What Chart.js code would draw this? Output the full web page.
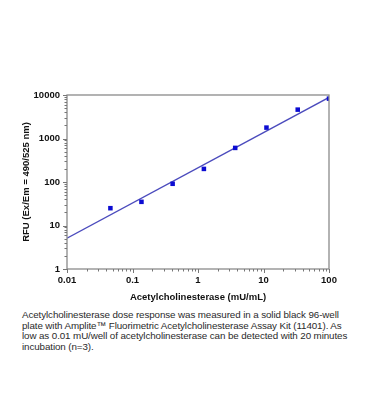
<!DOCTYPE html>
<html><head><meta charset="utf-8">
<script src="https://cdn.jsdelivr.net/npm/chart.js@4"></script>
<style>
html,body{margin:0;padding:0;background:#fff;width:369px;height:419px;overflow:hidden}
#wrap{position:absolute;left:0;top:0;width:369px;height:303px}
#cap{position:absolute;left:22px;top:310px;width:345px;font-family:"Liberation Sans",Arial,sans-serif;font-size:9.8px;line-height:10.7px;color:#2a2a2a;white-space:nowrap;letter-spacing:-0.1px}
</style></head><body>
<div id="wrap"><canvas id="c" width="369" height="303"></canvas></div>
<div id="cap">Acetylcholinesterase dose response was measured in a solid black 96-well<br>plate with Amplite™ Fluorimetric Acetylcholinesterase Assay Kit (11401). As<br>low as 0.01 mU/well of acetylcholinesterase can be detected with 20 minutes<br>incubation (n=3).</div>
<script>
const concentrations = [0.046, 0.137, 0.41, 1.23, 3.7, 11.1, 33.3, 100];
const rfu = [25, 35, 91, 200, 608, 1780, 4610, 8250];
const fitX = [0.01, 100];
const fitY = [5.1, 8800];
const xTickLabels = ["0.01", "0.1", "1", "10", "100"];
const yTickLabels = ["1", "10", "100", "1000", "10000"];

function logTicks(min, max){
  const t=[];
  for(let e=Math.round(Math.log10(min)); e<=Math.round(Math.log10(max)); e++){
    for(let m=1;m<10;m++){const v=m*Math.pow(10,e); if(v<=max*1.0001) t.push({value:v, major:m===1});}
  }
  return t;
}
const fmt = (v, labels) => { const s = labels.find(l => Math.abs(parseFloat(l)-v) < v*1e-6); return s || ''; };

const frame = {
  id:'frame',
  afterDraw(chart){
    const {ctx, chartArea:a} = chart;
    ctx.save();
    ctx.strokeStyle='#8a8a8a'; ctx.lineWidth=1.3;
    ctx.strokeRect(a.left, a.top, a.right-a.left, a.bottom-a.top);
    ctx.strokeStyle='#777'; ctx.lineWidth=1;
    const xs=chart.scales.x, ys=chart.scales.y;
    xs.ticks.forEach(t=>{const p=Math.round(xs.getPixelForValue(t.value))+0.5; const L=t.major?4:2.5; ctx.beginPath(); ctx.moveTo(p,a.bottom); ctx.lineTo(p,a.bottom+L); ctx.stroke();});
    ys.ticks.forEach(t=>{const p=Math.round(ys.getPixelForValue(t.value))+0.5; const L=t.major?4:2.5; ctx.beginPath(); ctx.moveTo(a.left,p); ctx.lineTo(a.left-L,p); ctx.stroke();});
    ctx.restore();
  }
};

new Chart(document.getElementById('c'), {
  type:'scatter',
  data:{datasets:[
    {label:'fit', type:'line', data:fitX.map((x,i)=>({x, y:fitY[i]})), borderColor:'#4b4bbd', borderWidth:1.3, pointRadius:0, fill:false, order:2},
    {label:'data', data:concentrations.map((x,i)=>({x, y:rfu[i]})), pointStyle:'rect', pointRadius:3.2, backgroundColor:'#0c0cd2', borderColor:'#0c0cd2', borderWidth:0, order:1}
  ]},
  plugins:[frame],
  options:{
    responsive:false, animation:false,
    layout:{padding:{top:95, right:40, left:21, bottom:0}},
    plugins:{legend:{display:false}, tooltip:{enabled:false}},
    scales:{
      x:{type:'logarithmic', min:0.01, max:100,
        afterBuildTicks(s){s.ticks=logTicks(0.01,100);},
        afterFit(s){s.height=34;},
        grid:{display:false, drawTicks:false}, border:{display:false},
        ticks:{autoSkip:false, maxRotation:0, padding:6, color:'#111', font:{family:'"Liberation Sans", Arial, sans-serif', size:9.5, weight:'bold'}, callback:(v)=>fmt(v,xTickLabels)},
        title:{display:true, text:'Acetylcholinesterase (mU/mL)', color:'#111', padding:{top:4,bottom:0}, font:{family:'"Liberation Sans", Arial, sans-serif', size:9.5, weight:'bold'}}
      },
      y:{type:'logarithmic', min:1, max:10000,
        afterBuildTicks(s){s.ticks=logTicks(1,10000);},
        afterFit(s){s.width=46;},
        grid:{display:false, drawTicks:false}, border:{display:false},
        ticks:{autoSkip:false, padding:7, color:'#111', font:{family:'"Liberation Sans", Arial, sans-serif', size:9.5, weight:'bold'}, callback:(v)=>fmt(v,yTickLabels)},
        title:{display:true, text:'RFU (Ex/Em = 490/525 nm)', color:'#111', padding:{top:0,bottom:4}, font:{family:'"Liberation Sans", Arial, sans-serif', size:9.5, weight:'bold'}}
      }
    }
  }
});
</script>
</body></html>
